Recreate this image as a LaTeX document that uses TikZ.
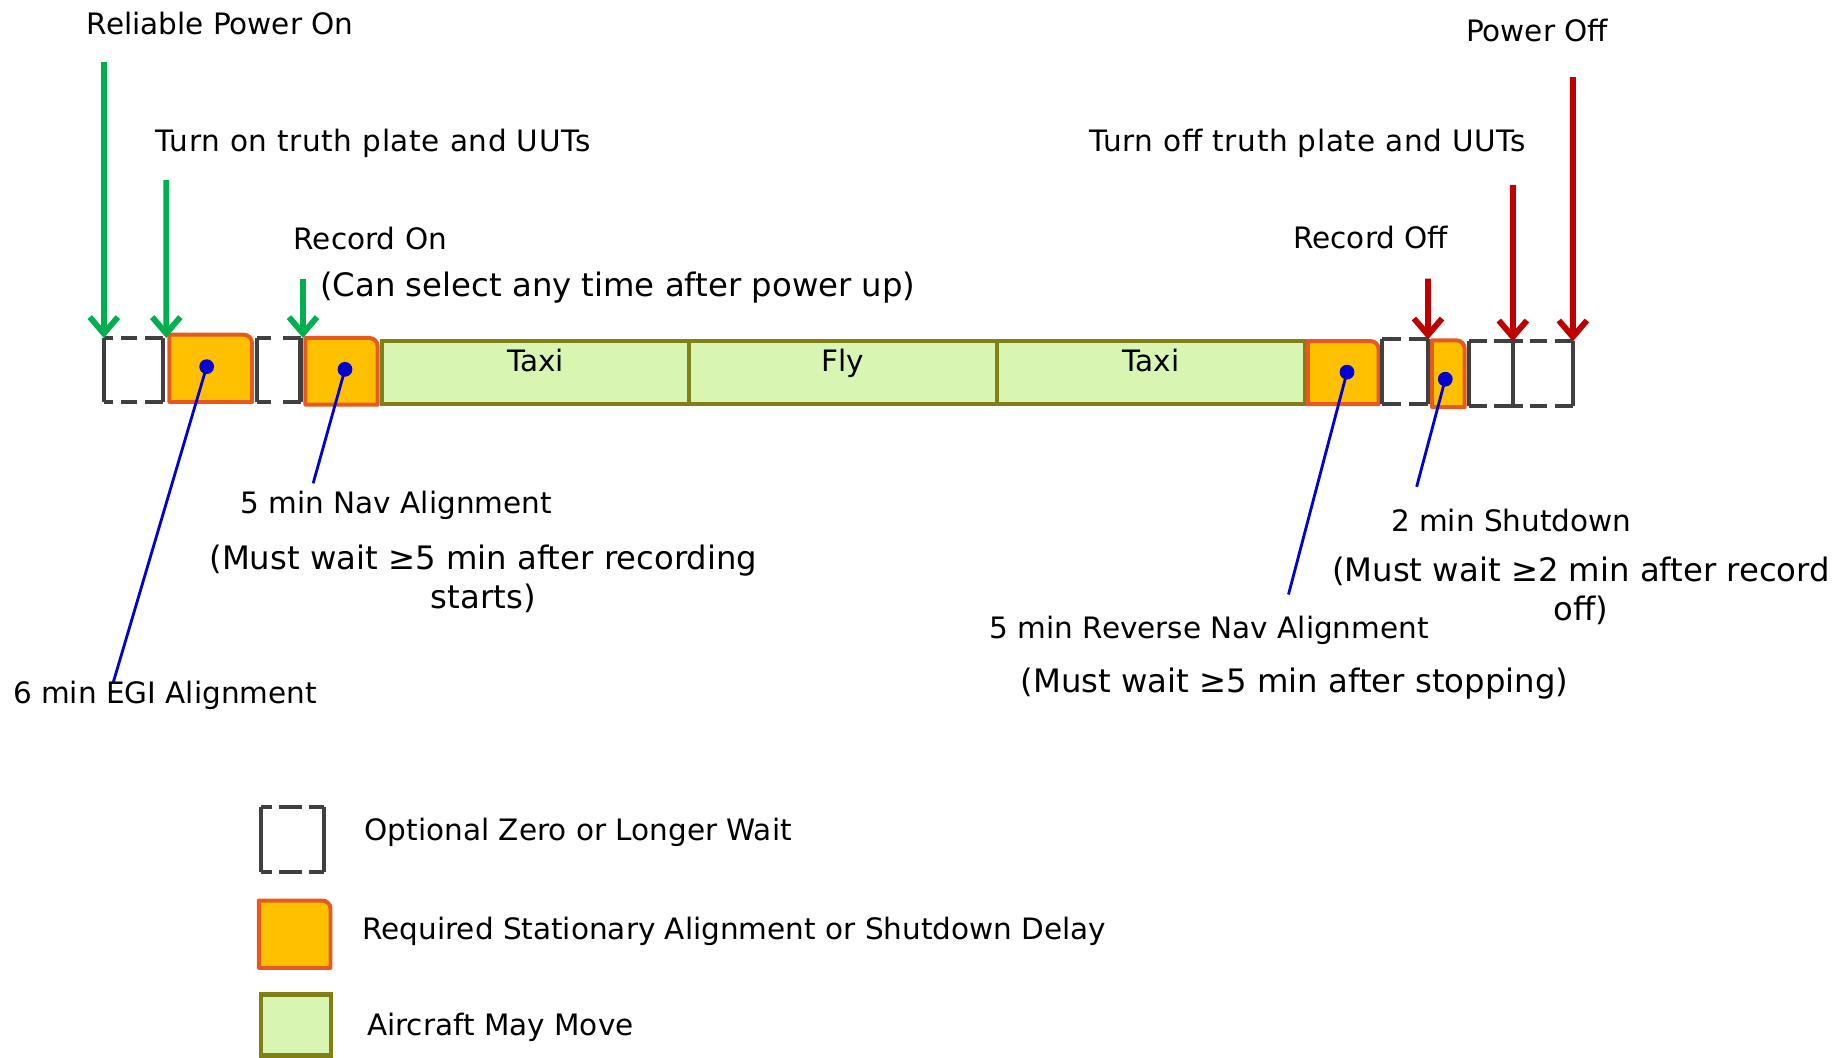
\documentclass[tikz,border=0pt]{standalone}
\usepackage{fontspec}
\setmainfont{DejaVu Sans}
\usetikzlibrary{arrows.meta,calc,fit}

\definecolor{waitgray}{HTML}{404040}
\definecolor{alignfill}{HTML}{FFC000}
\definecolor{alignedge}{HTML}{E65A20}
\definecolor{movefill}{HTML}{D8F6B2}
\definecolor{moveedge}{HTML}{808014}
\definecolor{ongreen}{HTML}{00B050}
\definecolor{offred}{HTML}{C00000}
\definecolor{pointblue}{HTML}{0000D0}

% bracket-style wait box: solid sides, dashed top and bottom
\newcommand\waitsides[1]{%
  \draw[waitline] (#1.north west) -- (#1.south west);
  \draw[waitline] (#1.north east) -- (#1.south east);}
\newcommand\waittop[2]{%
  \draw[waitline, dash pattern=#2] (#1.north west) -- (#1.north east);
  \draw[waitline, dash pattern=#2] (#1.south west) -- (#1.south east);}
% alignment box with a rounded top-right corner
\newcommand\alignshape[1]{%
  \draw[alignbox] (#1.south west) -- (#1.north west) [rounded corners=7pt]
    -- (#1.north east) [sharp corners] -- (#1.south east) -- cycle;}

\begin{document}
\begin{tikzpicture}[x=1pt,y=-1pt,
  slot/.style={inner sep=0pt, outer sep=0pt, draw=none},
  waitline/.style={draw=waitgray, line width=3.6pt},
  alignbox/.style={draw=alignedge, fill=alignfill, line width=3.4pt, line join=round},
  movebox/.style={slot, draw=moveedge, fill=movefill, line width=3.6pt},
  onarrow/.style={draw=ongreen, line width=5pt, -{Straight Barb[length=14pt,width=24pt]}},
  offarrow/.style={draw=offred, line width=5pt, -{Straight Barb[length=14pt,width=24pt]}},
  dot/.style={circle, fill=pointblue, inner sep=0pt, minimum size=12.6pt},
  pointer/.style={draw=pointblue, line width=2.4pt},
  lbl/.style={inner sep=0pt, font=\fontsize{25.2}{30.2}\selectfont},
  widelbl/.style={inner sep=0pt, font=\fontsize{25.2}{30.2}\selectfont\addfontfeature{LetterSpace=2.2}},
  note/.style={inner sep=0pt, font=\fontsize{27.6}{32.7}\selectfont},
]
\useasboundingbox (0,0) rectangle (1568,904);

% ---- timeline slots ----
\node[slot, fit={(88.7,288.8) (139.4,343.5)}] (d1) {};
\node[slot, fit={(144.8,286) (215.3,343.5)}] (o1) {};
\node[slot, fit={(219.8,288.8) (256.8,343.5)}] (d2) {};
\node[slot, fit={(261,288.8) (322.7,345.8)}] (o2) {};
\node[movebox, fit={(326.4,291.4) (588.8,345.3)}] (g1) {};
\node[movebox, fit={(588.8,291.4) (852,345.3)}] (g2) {};
\node[movebox, fit={(852,291.4) (1115,345.3)}] (g3) {};
\node[slot, fit={(1117.5,291.4) (1178,345.3)}] (o3) {};
\node[slot, fit={(1181,290) (1220.2,345)}] (d3) {};
\node[slot, fit={(1223.6,290.8) (1251.5,347.8)}] (o4) {};
\node[slot, fit={(1255.5,291.7) (1292.7,347)}] (d4) {};
\node[slot, fit={(1292.7,291.7) (1344,347)}] (d5) {};

\alignshape{o1}
\alignshape{o2}
\alignshape{o3}
\alignshape{o4}

\waittop{d1}{on 8pt off 6.3pt on 14.2pt off 7.1pt on 30pt}
\waittop{d2}{on 12pt off 10pt on 30pt}
\waittop{d3}{on 16pt off 7pt on 30pt}
\waittop{d4}{on 15pt off 6pt on 30pt}
\waittop{d5}{on 9pt off 6pt on 14pt off 7pt on 30pt}
\waitsides{d1}
\waitsides{d2}
\waitsides{d3}
\waitsides{d4}
\waitsides{d5}

\node[lbl, anchor=base] (taxi1) at ($(g1.north)+(0,26.1)$) {Taxi};
\node[lbl, anchor=base] (fly)   at ($(g2.north)+(0,26.1)$) {Fly};
\node[lbl, anchor=base] (taxi2) at ($(g3.north)+(0,26.1)$) {Taxi};

% ---- event arrows ----
\coordinate (a1s) at (88.7,52.7);
\coordinate (a2s) at (142.1,154);
\coordinate (a3s) at (258.9,238);
\coordinate (r1s) at (1220.2,238);
\coordinate (r2s) at (1292.7,158);
\coordinate (r3s) at (1344,66);
\coordinate (a2e) at ($(d1.north east)!0.5!(o1.north west)$);
\coordinate (a3e) at ($(d2.north east)!0.5!(o2.north west)$);

\draw[onarrow] (a1s) -- (d1.north west);
\draw[onarrow] (a2s) -- (a2e |- d1.north);
\draw[onarrow] (a3s) -- (a3e |- d2.north);
\draw[offarrow] (r1s) -- (d3.north east);
\draw[offarrow] (r2s) -- (d4.north east);
\draw[offarrow] (r3s) -- (d5.north east);

\node[lbl, anchor=base west] (rpo)  at (74,29.3) {Reliable Power On};
\node[widelbl, anchor=base west] (ton)  at (132.7,129.6) {Turn on truth plate and UUTs};
\node[lbl, anchor=base west] (ron)  at (250.8,213) {Record On};
\node[note, anchor=base west] (can) at (273.5,253.5) {(Can select any time after power up)};
\node[widelbl, anchor=base west] (toff) at (930.5,129.6) {Turn off truth plate and UUTs};
\node[lbl, anchor=base west] (roff) at (1105,212) {Record Off};
\node[lbl, anchor=base west] (poff) at (1252.5,35.6) {Power Off};

% ---- pointers to the alignment boxes ----
\coordinate (e1) at (96.8,583);
\coordinate (e2) at (267.6,413);
\coordinate (e3) at (1101,508);
\coordinate (e4) at (1210.5,416);
\node[dot] (p1) at (176.6,313.3) {};
\node[dot] (p2) at (294.8,315.6) {};
\node[dot] (p3) at (1151,318) {};
\node[dot] (p4) at (1235,324) {};
\draw[pointer] (p1.center) -- (e1);
\draw[pointer] (p2.center) -- (e2);
\draw[pointer] (p3.center) -- (e3);
\draw[pointer] (p4.center) -- (e4);

\node[lbl, anchor=base west] (nav)  at (205.5,438.5) {5 min Nav Alignment};
\node[note, align=center, anchor=base] (navw) at (413,519.7) {(Must wait ≥5 min after recording\\starts)};
\node[lbl, anchor=base west] (egi)  at (11,601) {6 min EGI Alignment};
\node[lbl, anchor=base west] (rev)  at (845.5,546) {5 min Reverse Nav Alignment};
\node[note, anchor=base west] (revw) at (872,591.5) {(Must wait ≥5 min after stopping)};
\node[lbl, anchor=base west] (shut) at (1188.5,454.3) {2 min Shutdown};
\node[note, align=center, anchor=base] (shutw) at (1351,530) {(Must wait ≥2 min after record\\off)};

% ---- legend ----
\node[slot, fit={(223.3,689.6) (276.7,745.1)}] (kwait) {};
\waittop{kwait}{on 9pt off 6pt on 20pt off 6pt on 30pt}
\waitsides{kwait}
\node[slot, fit={(221.2,769.5) (282.4,827)}] (kalign) {};
\alignshape{kalign}
\node[movebox, fit={(223.3,849.8) (282.6,902)}] (kmove) {};

\node[lbl, anchor=base west] (kwaitt)  at (311.5,717.8) {Optional Zero or Longer Wait};
\node[lbl, anchor=base west] (kalignt) at (309.5,803) {Required Stationary Alignment or Shutdown Delay};
\node[lbl, anchor=base west] (kmovet)  at (313.5,884.4) {Aircraft May Move};
\end{tikzpicture}
\end{document}
